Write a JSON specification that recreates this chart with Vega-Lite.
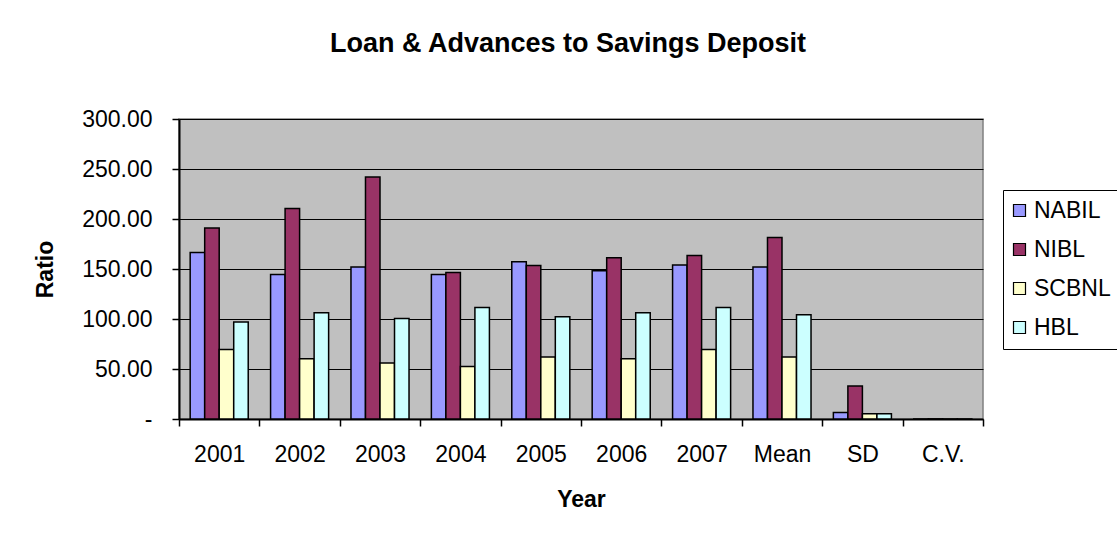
{
  "$schema": "https://vega.github.io/schema/vega-lite/v6.json",
  "width": 804,
  "height": 300,
  "autosize": {"type": "none"},
  "padding": {"left": 179, "top": 119, "right": 134, "bottom": 119},
  "background": "white",
  "title": {"text": "Loan & Advances to Savings Deposit", "fontSize": 27, "fontWeight": "bold", "color": "black", "anchor": "middle", "frame": "group", "baseline": "alphabetic", "dx": -13, "offset": 29},
  "data": {"values": [
    {"Year": "2001", "Bank": "NABIL", "Ratio": 166.6},
    {"Year": "2001", "Bank": "NIBL", "Ratio": 191.0},
    {"Year": "2001", "Bank": "SCBNL", "Ratio": 69.6},
    {"Year": "2001", "Bank": "HBL", "Ratio": 97.0},
    {"Year": "2002", "Bank": "NABIL", "Ratio": 144.6},
    {"Year": "2002", "Bank": "NIBL", "Ratio": 210.6},
    {"Year": "2002", "Bank": "SCBNL", "Ratio": 60.3},
    {"Year": "2002", "Bank": "HBL", "Ratio": 106.3},
    {"Year": "2003", "Bank": "NABIL", "Ratio": 152.0},
    {"Year": "2003", "Bank": "NIBL", "Ratio": 242.0},
    {"Year": "2003", "Bank": "SCBNL", "Ratio": 56.0},
    {"Year": "2003", "Bank": "HBL", "Ratio": 100.6},
    {"Year": "2004", "Bank": "NABIL", "Ratio": 144.6},
    {"Year": "2004", "Bank": "NIBL", "Ratio": 146.6},
    {"Year": "2004", "Bank": "SCBNL", "Ratio": 52.6},
    {"Year": "2004", "Bank": "HBL", "Ratio": 111.6},
    {"Year": "2005", "Bank": "NABIL", "Ratio": 157.3},
    {"Year": "2005", "Bank": "NIBL", "Ratio": 153.6},
    {"Year": "2005", "Bank": "SCBNL", "Ratio": 62.0},
    {"Year": "2005", "Bank": "HBL", "Ratio": 102.3},
    {"Year": "2006", "Bank": "NABIL", "Ratio": 148.3},
    {"Year": "2006", "Bank": "NIBL", "Ratio": 161.3},
    {"Year": "2006", "Bank": "SCBNL", "Ratio": 60.3},
    {"Year": "2006", "Bank": "HBL", "Ratio": 106.3},
    {"Year": "2007", "Bank": "NABIL", "Ratio": 154.0},
    {"Year": "2007", "Bank": "NIBL", "Ratio": 163.6},
    {"Year": "2007", "Bank": "SCBNL", "Ratio": 69.6},
    {"Year": "2007", "Bank": "HBL", "Ratio": 111.6},
    {"Year": "Mean", "Bank": "NABIL", "Ratio": 152.0},
    {"Year": "Mean", "Bank": "NIBL", "Ratio": 181.6},
    {"Year": "Mean", "Bank": "SCBNL", "Ratio": 62.0},
    {"Year": "Mean", "Bank": "HBL", "Ratio": 104.3},
    {"Year": "SD", "Bank": "NABIL", "Ratio": 6.6},
    {"Year": "SD", "Bank": "NIBL", "Ratio": 33.0},
    {"Year": "SD", "Bank": "SCBNL", "Ratio": 5.3},
    {"Year": "SD", "Bank": "HBL", "Ratio": 5.3},
    {"Year": "C.V.", "Bank": "NABIL", "Ratio": 0.04},
    {"Year": "C.V.", "Bank": "NIBL", "Ratio": 0.18},
    {"Year": "C.V.", "Bank": "SCBNL", "Ratio": 0.09},
    {"Year": "C.V.", "Bank": "HBL", "Ratio": 0.05}
  ]},
  "mark": {"type": "bar", "stroke": "black", "strokeWidth": 1.5},
  "encoding": {
    "x": {
      "field": "Year", "type": "nominal",
      "sort": ["2001", "2002", "2003", "2004", "2005", "2006", "2007", "Mean", "SD", "C.V."],
      "scale": {"paddingInner": 0, "paddingOuter": 0},
      "axis": {"title": "Year", "labelAngle": 0, "tickBand": "extent", "tickSize": 7, "tickWidth": 1.5, "tickColor": "black", "domainColor": "black", "domainWidth": 2, "labelFontSize": 23, "labelPadding": 17, "labelColor": "black", "titleFontSize": 23, "titleFontWeight": "bold", "titleColor": "black", "titlePadding": 22, "labelOverlap": false}
    },
    "xOffset": {"field": "Bank", "type": "nominal", "sort": ["NABIL", "NIBL", "SCBNL", "HBL"], "scale": {"paddingInner": 0, "paddingOuter": 0.77}},
    "y": {
      "field": "Ratio", "type": "quantitative",
      "scale": {"domain": [0, 300], "nice": false},
      "axis": {"title": "Ratio", "values": [0, 50, 100, 150, 200, 250, 300], "labelExpr": "datum.value == 0 ? '-' : format(datum.value, '.2f')", "tickSize": 7, "tickWidth": 1.5, "tickColor": "black", "domainColor": "black", "domainWidth": 2, "gridColor": "black", "gridWidth": 1.2, "gridOpacity": 1, "labelFontSize": 23, "labelPadding": 20, "labelColor": "black", "titleFontSize": 23, "titleFontWeight": "bold", "titleColor": "black", "titlePadding": 24}
    },
    "color": {
      "field": "Bank", "type": "nominal",
      "scale": {"domain": ["NABIL", "NIBL", "SCBNL", "HBL"], "range": ["#9999FF", "#993366", "#FFFFCC", "#CCFFFF"]},
      "legend": {"title": null, "orient": "none", "legendX": 824, "legendY": 71, "strokeColor": "black", "fillColor": "white", "padding": 9, "symbolOffset": -4, "symbolType": "square", "symbolSize": 144, "symbolStrokeColor": "black", "symbolStrokeWidth": 1.2, "symbolOpacity": 1, "labelFontSize": 23, "labelColor": "black", "labelOffset": 3, "rowPadding": 15}
    }
  },
  "config": {
    "font": "Liberation Sans",
    "view": {"fill": "#C0C0C0", "stroke": "#808080", "strokeWidth": 1.5}
  }
}
